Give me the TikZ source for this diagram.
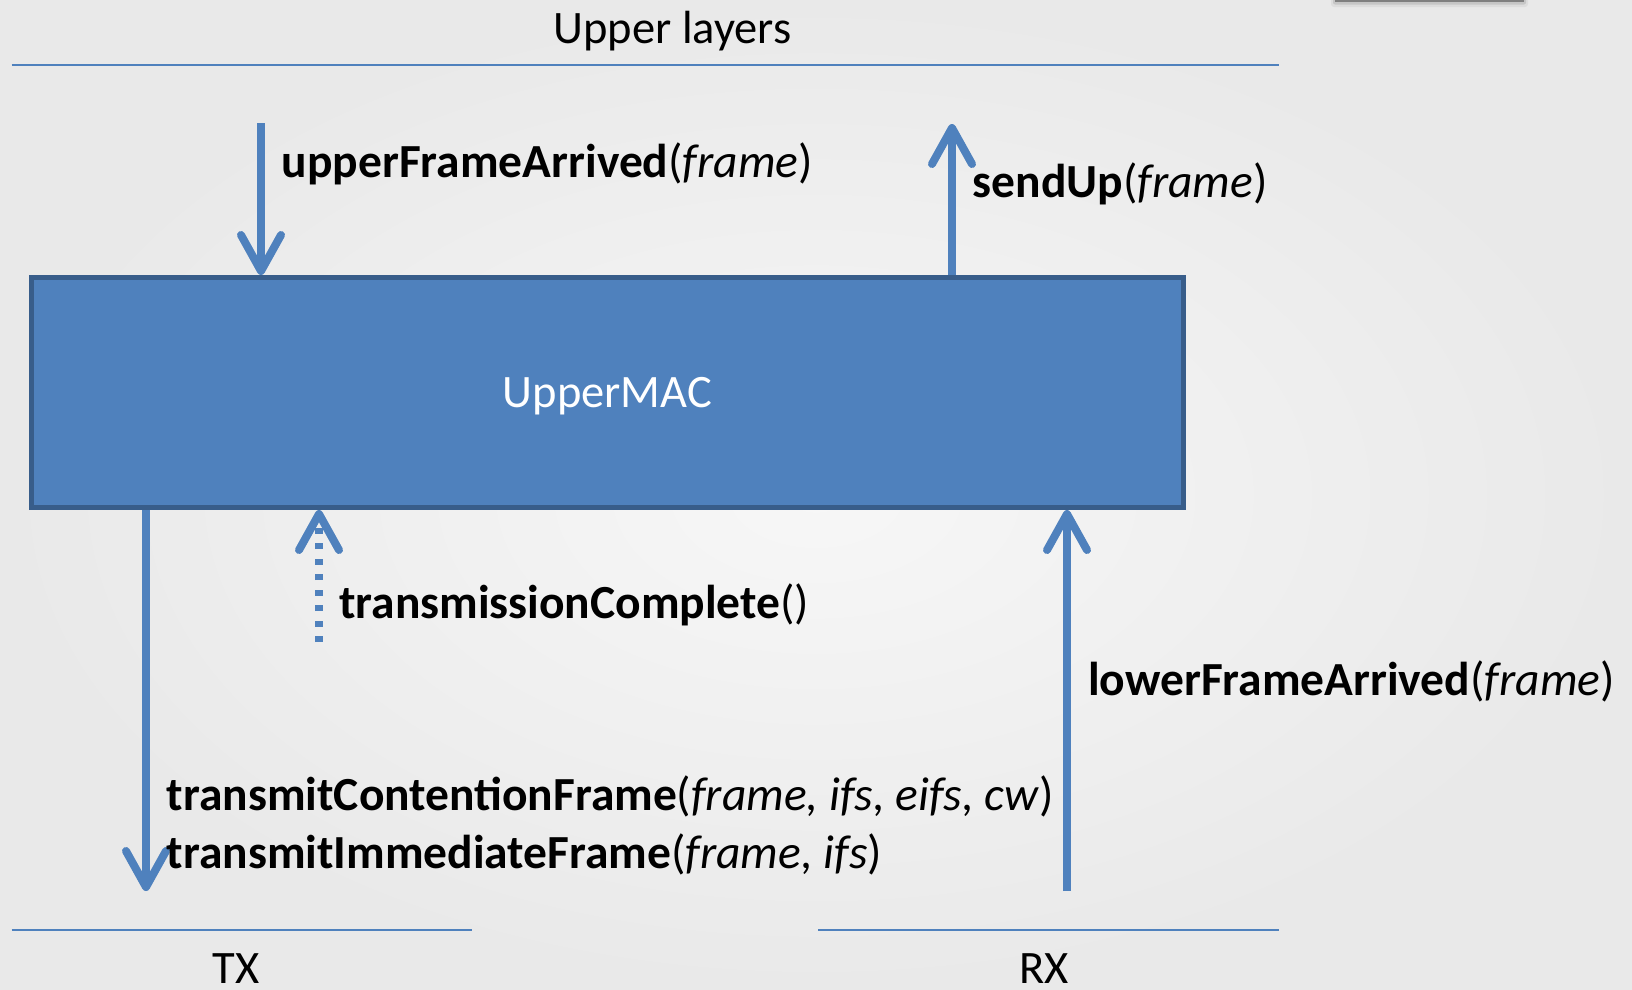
\documentclass[tikz,border=0pt]{standalone}
\usepackage{fontspec}
\setmainfont{Carlito}
\usetikzlibrary{arrows.meta}

\definecolor{accent}{HTML}{4F81BD}
\definecolor{accentdark}{HTML}{385D8A}
\definecolor{bginner}{HTML}{F7F7F7}
\definecolor{bgouter}{HTML}{E9E9E9}

\begin{document}
\begin{tikzpicture}[x=1pt, y=-1pt,
  layerline/.style={draw=accent, line width=2pt},
  layertext/.style={font=\fontsize{46.5}{56}\selectfont, anchor=base, inner sep=0pt},
  macbox/.style={draw=accentdark, fill=accent, line width=5pt,
    minimum width=1152pt, minimum height=230pt, inner sep=0pt,
    text=white, font=\fontsize{46.5}{56}\selectfont,
    text height=29.8pt, text depth=0pt},
  callarrow/.style={draw=accent, line width=8pt,
    -{Straight Barb[length=36pt, width=40pt, round]}},
  calltext/.style={font=\fontsize{47.5}{57}\selectfont,
    anchor=base west, inner sep=0pt},
]
\useasboundingbox (0,0) rectangle (1632,989);

% slide background
\shade[inner color=bginner, outer color=bgouter] (0,0) rectangle (1632,989);

% header bar at the top edge, with its soft shadow
\fill[black, opacity=0.05, rounded corners=3pt] (1331,-4) rectangle (1528,7);
\fill[black, opacity=0.10, rounded corners=2pt] (1333,-4) rectangle (1526,4.5);
\fill[black!50] (1335,-4) rectangle (1524,2);

% layer boundaries
\draw[layerline] (11.5,65) -- (1279,65);
\draw[layerline] (11.5,929.5) -- (472,929.5);
\draw[layerline] (818,929.5) -- (1279,929.5);

\node[layertext] (upper) at (672.5,43) {Upper layers};
\node[layertext] (txl) at (236,983.5) {TX};
\node[layertext] (rxl) at (1044,983.5) {RX};

% the UpperMAC block
\node[macbox] (mac) at (607.5,392.5) {UpperMAC};

% free ends of the connectors
\coordinate (ufa) at (261,123);
\coordinate (sup) at (952,124);
\coordinate (tcp) at (319,642);
\coordinate (txe) at (146,891);
\coordinate (lfa) at (1067,891);

% calls between the layers
\draw[callarrow] (ufa) -- (ufa |- mac.north);
\draw[callarrow] (mac.north -| sup) -- (sup);
\draw[callarrow, dash pattern=on 6pt off 9.5pt] (tcp) -- (mac.south -| tcp);
\draw[callarrow] (mac.south -| txe) -- (txe);
\draw[callarrow] (lfa) -- (mac.south -| lfa);

% call labels
\node[calltext] (ufal) at (281.7,177) {\textbf{upperFrameArrived}(\textit{frame})};
\node[calltext] (supl) at (972.7,197) {\textbf{sendUp}(\textit{frame})};
\node[calltext] (tcpl) at (339,618) {\textbf{transmissionComplete}()};
\node[calltext] (lfal) at (1088,695.5) {\textbf{lowerFrameArrived}(\textit{frame})};
\node[calltext] (tcfl) at (166.7,810) {\textbf{transmitContentionFrame}(\textit{frame, ifs, eifs, cw})};
\node[calltext] (tifl) at (166.7,868) {\textbf{transmitImmediateFrame}(\textit{frame, ifs})};
\end{tikzpicture}
\end{document}
